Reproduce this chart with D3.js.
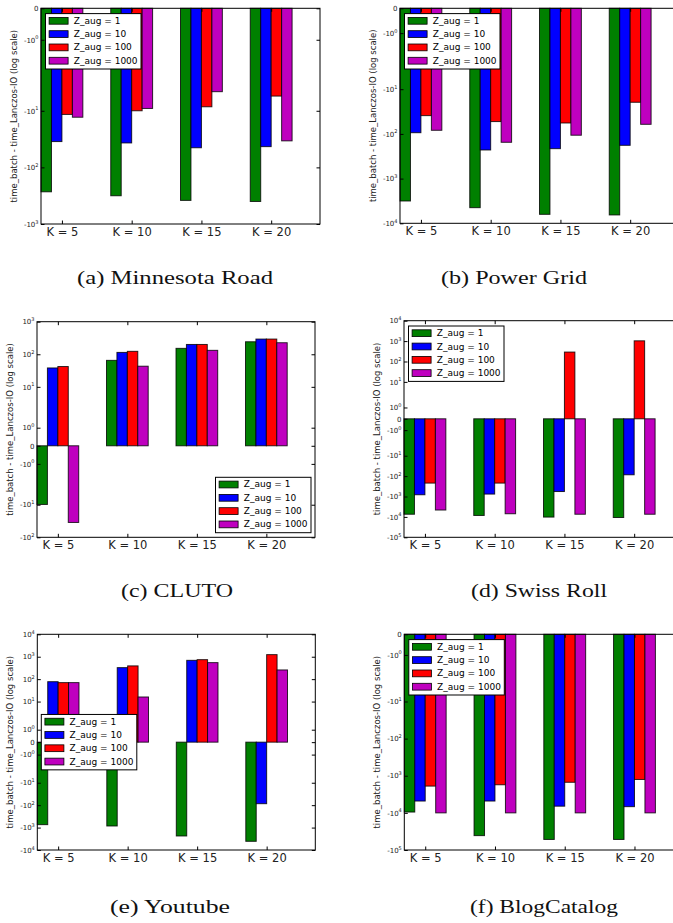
<!DOCTYPE html>
<html>
<head>
<meta charset="utf-8">
<script src="https://cdn.jsdelivr.net/npm/d3@7"></script>
<style>
  html, body { margin: 0; padding: 0; background: #fff; }
  svg { display: block; }
  .tick text { font-family: "DejaVu Sans", sans-serif; fill: #222; }
</style>
</head>
<body>
<svg id="fig" width="673" height="923"></svg>
<script>
// Category and series names
const kLabels = ["K = 5", "K = 10", "K = 15", "K = 20"];
const zAugLabels = ["Z_aug = 1", "Z_aug = 10", "Z_aug = 100", "Z_aug = 1000"];
const seriesColors = ["#008000", "#0000ff", "#ff0000", "#bf00bf"];

// time_batch - time_Lanczos-IO, one row per Z_aug, one value per K
const minnesotaRoad = [
  [-270, -317, -383, -400],
  [-35, -37, -45, -43],
  [-11.6, -10, -8.5, -5.5],
  [-13, -9.1, -4.6, -34]
];
const powerGrid = [
  [-3170, -4470, -6300, -6500],
  [-94, -229, -214, -180],
  [-39, -53, -57, -19.6],
  [-83, -154, -107, -61]
];
const cluto = [
  [-9.8, 65, 152, 242],
  [38, 114, 200, 293],
  [42, 123, 200, 293],
  [-35, 43, 132, 226]
];
const swissRoll = [
  [-7400, -8500, -10200, -10700],
  [-820, -760, -570, -86],
  [-220, -220, 290, 1030],
  [-4600, -7000, -7400, -7400]
];
const youtube = [
  [-740, -850, -2370, -4100],
  [77, 326, 690, -86],
  [70, 390, 740, 1240],
  [70, 16, 545, 257]
];
const blogCatalog = [
  [-9500, -41000, -52000, -52000],
  [-4800, -4800, -6600, -6800],
  [-1900, -1750, -1500, -1260],
  [-10000, -10000, -10000, -10000]
];

// Y tick values (symmetric log axis)
const ticksMinnesota = [0, -1, -10, -100, -1000];
const ticksPowerGrid = [0, -1, -10, -100, -1000, -10000];
const ticksCluto = [1000, 100, 10, 1, 0, -1, -10, -100];
const ticksSwissRoll = [10000, 1000, 100, 10, 1, 0, -1, -10, -100, -1000, -10000, -100000];
const ticksYoutube = [10000, 1000, 100, 10, 1, 0, -1, -10, -100, -1000, -10000];
const ticksBlogCatalog = [0, -1, -10, -100, -1000, -10000, -100000];

const captions = ["(a) Minnesota Road", "(b) Power Grid", "(c) CLUTO", "(d) Swiss Roll", "(e) Youtube", "(f) BlogCatalog"];

// Symmetric log transform (linear below the threshold, log10 above)
const linthresh = 2;
const linscaleAdj = 1 / (1 - 1 / 10);
function symlog(v) {
  const a = Math.abs(v);
  if (a <= linthresh) return v * linscaleAdj;
  return Math.sign(v) * linthresh * (linscaleAdj + Math.log10(a / linthresh));
}
function symlogInv(t) {
  const a = Math.abs(t);
  if (a <= linthresh * linscaleAdj) return t / linscaleAdj;
  return Math.sign(t) * linthresh * Math.pow(10, a / linthresh - linscaleAdj);
}

// Panel layout
const panels = [
  { data: minnesotaRoad, ticks: ticksMinnesota, left: 41, top: 8.3, width: 279, height: 215.7,
    legend: "upper left", cap: 0, capX: 175, capY: 284.3, capW: 196 },
  { data: powerGrid, ticks: ticksPowerGrid, left: 400, top: 8.3, width: 279, height: 215,
    legend: "upper left", cap: 1, capX: 514, capY: 284.3, capW: 146 },
  { data: cluto, ticks: ticksCluto, left: 37, top: 321.7, width: 278, height: 215.6,
    legend: "lower right", cap: 2, capX: 177, capY: 597, capW: 112 },
  { data: swissRoll, ticks: ticksSwissRoll, left: 404, top: 320.7, width: 279, height: 216.6,
    legend: "upper left", cap: 3, capX: 539, capY: 597, capW: 136 },
  { data: youtube, ticks: ticksYoutube, left: 37.3, top: 634.3, width: 278, height: 215.7,
    legend: "center left", cap: 4, capX: 170, capY: 912.7, capW: 120 },
  { data: blogCatalog, ticks: ticksBlogCatalog, left: 404.3, top: 634.3, width: 279, height: 215.7,
    legend: "upper left", cap: 5, capX: 544, capY: 912.7, capW: 148 }
];

const svg = d3.select("#fig");
svg.append("rect").attr("width", 673).attr("height", 923).attr("fill", "#fff");

const barWidth = 0.15;
const tickLen = 3.5;

function superLabel(sel, v) {
  sel.text(null);
  if (v === 0) { sel.append("tspan").text("0"); return; }
  const exp = Math.round(Math.log10(Math.abs(v)));
  sel.append("tspan").text((v < 0 ? "-" : "") + "10");
  sel.append("tspan").attr("font-size", 5).attr("dy", -3.2).text(exp);
}

panels.forEach(p => {
  const g = svg.append("g");
  const yMin = d3.min(p.ticks), yMax = d3.max(p.ticks);
  const x = d3.scaleLinear().domain([0, 4]).range([p.left, p.left + p.width]);
  const y = d3.scaleLinear().domain([symlog(yMin), symlog(yMax)]).range([p.top + p.height, p.top]);

  // Bars
  p.data.forEach((vals, s) => {
    g.append("g").selectAll("rect")
      .data(vals)
      .join("rect")
      .attr("x", (d, i) => x(i + s * barWidth))
      .attr("width", x(barWidth) - x(0))
      .attr("y", d => Math.min(y(symlog(d)), y(0)))
      .attr("height", d => Math.abs(y(symlog(d)) - y(0)))
      .attr("fill", seriesColors[s])
      .attr("stroke", "#000")
      .attr("stroke-opacity", 0.8)
      .attr("stroke-width", 1);
  });

  const tVals = p.ticks.map(symlog);
  const kPos = kLabels.map((k, i) => i + 2 * barWidth);

  // Left axis with labels
  const left = g.append("g").attr("transform", `translate(${p.left},0)`)
    .call(d3.axisLeft(y).tickValues(tVals).tickSize(-tickLen).tickSizeOuter(0).tickPadding(2.5));
  left.select(".domain").remove();
  left.selectAll(".tick line").attr("stroke", "#000");
  left.selectAll(".tick text").attr("font-size", 7).attr("fill", "#333")
    .each(function(d) { superLabel(d3.select(this), Math.round(symlogInv(d))); });

  // Right axis, ticks only
  const right = g.append("g").attr("transform", `translate(${p.left + p.width},0)`)
    .call(d3.axisRight(y).tickValues(tVals).tickSize(-tickLen).tickSizeOuter(0).tickFormat(""));
  right.select(".domain").remove();
  right.selectAll(".tick line").attr("stroke", "#000");

  // Bottom axis with category labels
  const bottom = g.append("g").attr("transform", `translate(0,${p.top + p.height})`)
    .call(d3.axisBottom(x).tickValues(kPos).tickSize(-tickLen).tickSizeOuter(0).tickPadding(3.8)
      .tickFormat((d, i) => kLabels[i]));
  bottom.select(".domain").remove();
  bottom.selectAll(".tick line").attr("stroke", "#000");
  bottom.selectAll(".tick text").attr("font-size", 11.5).attr("fill", "#000");

  // Top axis, ticks only
  const top = g.append("g").attr("transform", `translate(0,${p.top})`)
    .call(d3.axisTop(x).tickValues(kPos).tickSize(-tickLen).tickSizeOuter(0).tickFormat(""));
  top.select(".domain").remove();
  top.selectAll(".tick line").attr("stroke", "#000");

  // Frame
  g.append("rect")
    .attr("x", p.left).attr("y", p.top)
    .attr("width", p.width).attr("height", p.height)
    .attr("fill", "none").attr("stroke", "#000").attr("stroke-width", 1);

  // Y axis title
  g.append("text")
    .attr("transform", `translate(${p.left - 27},${p.top + p.height / 2}) rotate(-90)`)
    .attr("text-anchor", "middle")
    .attr("dominant-baseline", "central")
    .attr("font-family", "DejaVu Sans, sans-serif")
    .attr("font-size", 8.5)
    .attr("fill", "#222")
    .text("time_batch - time_Lanczos-IO (log scale)");

  // Legend
  const lw = 95.5, lh = 55.4;
  let lx, ly;
  if (p.legend === "upper left") { lx = p.left + 4.5; ly = p.top + 5.3; }
  else if (p.legend === "lower right") { lx = p.left + p.width - 4 - lw; ly = p.top + p.height - 4.6 - lh; }
  else { lx = p.left + 4; ly = p.top + p.height / 2 - lh / 2; }
  const lg = g.append("g").attr("transform", `translate(${lx},${ly})`);
  lg.append("rect").attr("width", lw).attr("height", lh)
    .attr("fill", "#fff").attr("stroke", "#000").attr("stroke-width", 1);
  zAugLabels.forEach((lab, s) => {
    const cy = 7.2 + s * 13.3;
    lg.append("rect").attr("x", 3.6).attr("y", cy - 3.4).attr("width", 19).attr("height", 6.8)
      .attr("fill", seriesColors[s]).attr("stroke", "#000").attr("stroke-width", 0.8);
    lg.append("text").attr("x", 28.3).attr("y", cy)
      .attr("dominant-baseline", "central")
      .attr("font-family", "DejaVu Sans, sans-serif")
      .attr("font-size", 9)
      .attr("fill", "#000")
      .text(lab);
  });

  // Caption
  svg.append("text")
    .attr("x", p.capX - p.capW / 2).attr("y", p.capY)
    .attr("textLength", p.capW)
    .attr("lengthAdjust", "spacingAndGlyphs")
    .attr("font-family", "Liberation Serif, serif")
    .attr("font-size", 18)
    .attr("fill", "#111")
    .text(captions[p.cap]);
});
</script>
</body>
</html>
